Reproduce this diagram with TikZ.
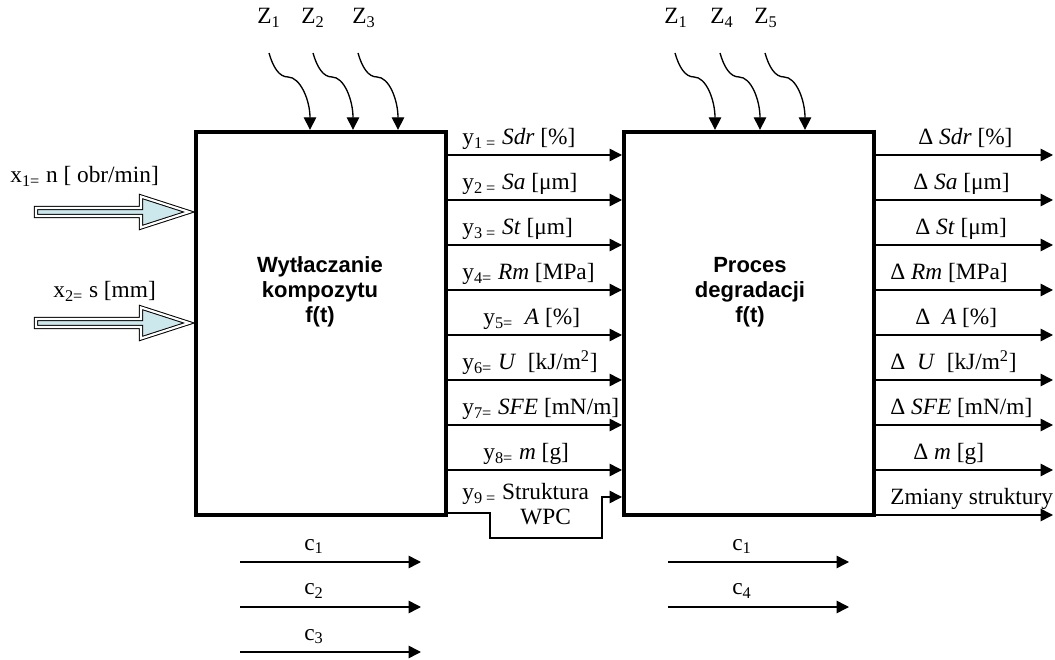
\documentclass[tikz,border=0pt]{standalone}
\usepackage{fontspec}
\setmainfont{Liberation Serif}
\setsansfont{Liberation Sans}
\usepackage{tikz}
\usetikzlibrary{arrows.meta,calc}
\definecolor{inputcyan}{HTML}{CCE8EC}

\begin{document}
\begin{tikzpicture}[x=0.6pt,y=-0.6pt,
    >={Triangle[length=7.5pt,width=7.5pt]},
    lbl/.style={font=\fontsize{14}{15}\selectfont,inner sep=0pt,anchor=base west},
    procbox/.style={draw,line width=2.4pt,minimum width=150pt,minimum height=230pt,inner sep=0pt},
    proctext/.style={font=\sffamily\bfseries\fontsize{13.2}{15}\selectfont,align=center},
    flow/.style={line width=0.9pt,->},
    noise/.style={line width=0.8pt,->},
    inarrow/.style={draw,fill=inputcyan,line width=0.6pt,double=white,double distance=1.3pt,line join=miter}]
    \useasboundingbox (0,0) rectangle (1055,660);
    \node[procbox] (wyt) at (321,323.5) {};
    \node[procbox] (deg) at (749,323.5) {};
    \node[proctext] (wyttxt) at (320,292) {Wytłaczanie\\kompozytu\\f(t)};
    \node[proctext] (degtxt) at (750,292) {Proces\\degradacji\\f(t)};
    \foreach \n/\lx/\sx/\ex/\blk/\sub in {za/269/269/310/wyt/1, zb/313/313/353/wyt/2, zc/364/358/398/wyt/3,
        zd/676/675/715/deg/1, ze/722/720/760/deg/4, zf/766/765/805/deg/5}{
      \node[lbl,anchor=base] (\n) at (\lx,24) {Z\textsubscript{\sub}};
      \coordinate (\n s) at (\sx,53);
      \coordinate (\n m) at ($(\n s)+(19,24)$);
      \draw[noise] (\n s) .. controls +(4,14) and +(-9,0) .. (\n m) .. controls +(12,0) and +(0,-30) .. (\blk.north -| \ex,0);
    }
    \foreach \i/\yy/\lx/\txt in {1/155/462/{y\textsubscript{1 =} \textit{Sdr} [\%]}, 2/200/462/{y\textsubscript{2 =} \textit{Sa} [μm]},
        3/245/462/{y\textsubscript{3 =} \textit{St} [μm]}, 4/290/462/{y\textsubscript{4=} \textit{Rm} [MPa]},
        5/335/483/{y\textsubscript{5=} \ \textit{A} [\%]}, 6/380/462/{y\textsubscript{6=} \textit{U}\ \ [kJ/m\textsuperscript{2}]},
        7/425/462/{y\textsubscript{7=} \textit{SFE} [mN/m]}, 8/470/483/{y\textsubscript{8=} \textit{m} [g]}}{
      \draw[flow] (wyt.east |- 0,\yy) -- (deg.west |- 0,\yy);
      \node[lbl] (y\i) at (\lx,\yy-10) {\txt};
    }
    \node[lbl] (y9) at (462,500) {y\textsubscript{9 =} \begin{tabular}[t]{@{}c@{}}Struktura\\WPC\end{tabular}};
    \coordinate (wpcA) at (490,538);
    \coordinate (wpcB) at (602,497);
    \draw[flow] (wyt.east |- 0,513) -| (wpcA) -| (wpcB) -- (deg.west |- wpcB);
    \foreach \i/\yy/\lx/\txt in {1/155/918/{Δ \textit{Sdr} [\%]}, 2/200/913/{Δ \textit{Sa} [μm]}, 3/245/915/{Δ \textit{St} [μm]},
        4/290/890/{Δ \textit{Rm} [MPa]}, 5/335/915/{Δ\ \ \textit{A} [\%]}, 6/380/890/{Δ\ \ \textit{U}\ \ [kJ/m\textsuperscript{2}]},
        7/425/890/{Δ \textit{SFE} [mN/m]}, 8/470/913/{Δ \textit{m} [g]}, 9/515/890/{Zmiany struktury}}{
      \coordinate (out\i) at (1053,\yy);
      \draw[flow] (deg.east |- out\i) -- (out\i);
      \node[lbl] (d\i) at (\lx,\yy-10) {\txt};
    }
    \foreach \yy in {212,323}
      \draw[inarrow] (36,\yy-4) -- (141,\yy-4) -- (141,\yy-15.5) -- (189,\yy) -- (141,\yy+15.5) -- (141,\yy+4) -- (36,\yy+4) -- cycle;
    \node[lbl] (x1) at (10,183) {x\textsubscript{1=} n [ obr/min]};
    \node[lbl] (x2) at (53,298) {x\textsubscript{2=} s [mm]};
    \foreach \n/\xs/\yy/\sub in {ca/240/562/1, cb/240/607/2, cc/240/652/3, cd/668/562/1, ce/668/607/4}{
      \coordinate (\n s) at (\xs,\yy);
      \coordinate (\n e) at (\xs+181,\yy);
      \draw[flow] (\n s) -- (\n e);
      \node[lbl] (\n) at (\xs+64,\yy-12) {c\textsubscript{\sub}};
    }
\end{tikzpicture}
\end{document}
